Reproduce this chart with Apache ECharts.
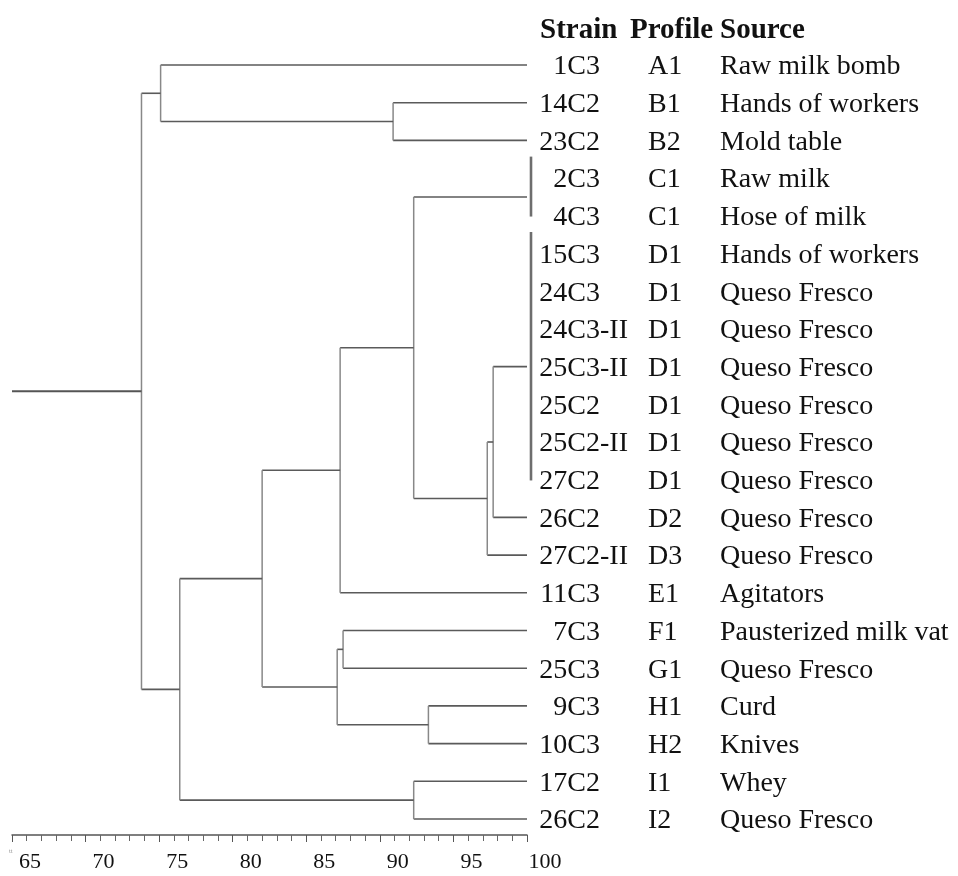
<!DOCTYPE html>
<html><head><meta charset="utf-8">
<script src="https://cdn.jsdelivr.net/npm/echarts@6/dist/echarts.min.js"></script>
<style>html,body{margin:0;padding:0;background:#fff}#c{width:958px;height:876px}</style>
</head><body><div id="c"></div>
<script>
// ---- data ----
const strains  = ['1C3','14C2','23C2','2C3','4C3','15C3','24C3','24C3-II','25C3-II','25C2','25C2-II','27C2','26C2','27C2-II','11C3','7C3','25C3','9C3','10C3','17C2','26C2'];
const profiles = ['A1','B1','B2','C1','C1','D1','D1','D1','D1','D1','D1','D1','D2','D3','E1','F1','G1','H1','H2','I1','I2'];
const sources  = ['Raw milk bomb','Hands of workers','Mold table','Raw milk','Hose of milk','Hands of workers','Queso Fresco','Queso Fresco','Queso Fresco','Queso Fresco','Queso Fresco','Queso Fresco','Queso Fresco','Queso Fresco','Agitators','Pausterized milk vat','Queso Fresco','Curd','Knives','Whey','Queso Fresco'];
const headers  = ['Strain','Profile','Source'];
// strains identical at 100 % similarity
const groupIds  = ['G1','G2'];
const groupRows = [[3,4],[5,6,7,8,9,10,11]];
// merges (numbers = row index, strings = cluster id)
const mergeIds   = ['B','A','L','M','I','G','N','O','H','F','E','C','R'];
const mergeLeft  = [1,   0,  'G2','L','G1','I', 15, 17, 'N','G', 19, 'F','A'];
const mergeRight = [2,  'B',  12,  13, 'M',  14, 16, 18, 'O','H', 20, 'E','C'];
const mergeSim   = [90.9,75.1,97.7,97.3,92.3,87.3,87.5,93.3,87.1,82.0,92.3,76.4,73.8];
const axisMin = 65, axisMax = 100, axisStep = 5;
const tickLabels = [65,70,75,80,85,90,95,100];

// ---- build dendrogram segments from the data ----
const nodes = {};
strains.forEach((s,i)=>{ nodes[i] = {x:axisMax, y:i}; });
const segs = [];
groupIds.forEach((g,k)=>{
  const rows = groupRows[k];
  nodes[g] = {x:axisMax, y: rows.reduce((a,b)=>a+b,0)/rows.length};
  segs.push([axisMax, rows[0]-0.57, axisMax, rows[rows.length-1]+0.02, 2]);
});
mergeIds.forEach((id,k)=>{
  const a = nodes[mergeLeft[k]], b = nodes[mergeRight[k]], s = mergeSim[k];
  segs.push([s, a.y, a.x, a.y, 0]);
  segs.push([s, b.y, b.x, b.y, 0]);
  segs.push([s, a.y, s, b.y, 1]);
  nodes[id] = {x:s, y:(a.y+b.y)/2};
});
const root = nodes['R'];
segs.push([axisMin, root.y, root.x, root.y, 3]);

const SERIF = "'Liberation Serif','Times New Roman',serif";
const STRAIN_RIGHT = 600, PROFILE_LEFT = 648, SOURCE_LEFT = 720;
const styles = {
  0:{stroke:'#5a5a5a', lineWidth:1.6},
  1:{stroke:'#888888', lineWidth:1.5},
  2:{stroke:'#6e6e6e', lineWidth:2.6},
  3:{stroke:'#555555', lineWidth:2}
};

const chart = echarts.init(document.getElementById('c'));
chart.setOption({
  animation:false,
  backgroundColor:'#fff',
  grid:{left:12, right:431, top:65, bottom:57},
  xAxis:{
    type:'value', min:axisMin, max:axisMax, interval:axisStep, position:'bottom', offset:16,
    axisLine:{show:true, onZero:false, lineStyle:{color:'#555', width:1.5}},
    axisTick:{show:true, length:7, lineStyle:{color:'#555', width:1}},
    minorTick:{show:true, splitNumber:5, length:6, lineStyle:{color:'#666', width:1}},
    splitLine:{show:false}, minorSplitLine:{show:false},
    axisLabel:{
      color:'#111', fontSize:22, fontFamily:SERIF, margin:16, padding:[0,0,0,36],
      formatter:v=> tickLabels.indexOf(v)>=0 ? String(v) : ''
    }
  },
  yAxis:{type:'value', min:0, max:strains.length-1, inverse:true, show:false},
  graphic:[
    ...headers.map((h,k)=>({
      type:'text', x:[540,630,720][k], y:31,
      style:{text:h, fill:'#111', font:"bold 29px "+SERIF, textAlign:'left', textVerticalAlign:'middle', align:'left', verticalAlign:'middle'}
    })),
    {type:'text', x:9, y:851, style:{text:'tt', fill:'#999', font:'6px sans-serif', textVerticalAlign:'middle', verticalAlign:'middle'}}
  ],
  series:[
    {
      type:'custom', coordinateSystem:'cartesian2d', clip:false, silent:true,
      data:segs, encode:{x:[0,2], y:[1,3]},
      renderItem:(params, api)=>{
        const p1 = api.coord([api.value(0), api.value(1)]);
        const p2 = api.coord([api.value(2), api.value(3)]);
        const kind = api.value(4);
        const dx = kind===2 ? 4 : 0;
        return {type:'line', shape:{x1:p1[0]+dx, y1:p1[1], x2:p2[0]+dx, y2:p2[1]}, style:Object.assign({}, styles[kind])};
      }
    },
    {
      type:'custom', coordinateSystem:'cartesian2d', clip:false, silent:true,
      data:strains.map((s,i)=>[axisMax, i]), encode:{x:0, y:1},
      renderItem:(params, api)=>{
        const i = params.dataIndex;
        const y = api.coord([axisMax, api.value(1)])[1] + 2;
        const s = strains[i];
        const dash = s.indexOf('-');
        const base = dash>=0 ? s.slice(0,dash) : s;
        const suf = dash>=0 ? s.slice(dash) : '';
        const font = "28px "+SERIF;
        const mk = (txt,x,al)=>({type:'text', x:x, y:y, style:{text:txt, fill:'#111', font:font, textAlign:al, align:al, textVerticalAlign:'middle', verticalAlign:'middle'}});
        return {type:'group', children:[
          mk(base, STRAIN_RIGHT, 'right'),
          mk(suf, STRAIN_RIGHT, 'left'),
          mk(profiles[i], PROFILE_LEFT, 'left'),
          mk(sources[i], SOURCE_LEFT, 'left')
        ]};
      }
    }
  ]
});
</script>
</body></html>
